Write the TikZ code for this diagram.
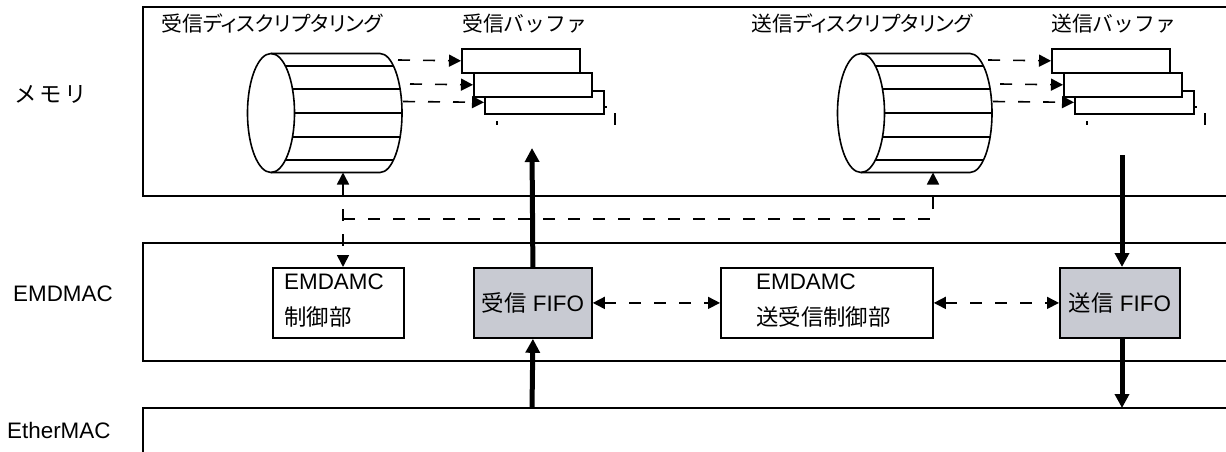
\documentclass[tikz,border=0pt]{standalone}
\usepackage{fontspec}
\setmainfont{Liberation Sans}
\newfontfamily\jp{Noto Sans CJK JP}[RawFeature=+palt]
\newfontfamily\jpw{Noto Sans CJK JP}
\usetikzlibrary{arrows.meta}
\definecolor{fifogray}{RGB}{200,202,210}
\tikzset{
  frame/.style={line width=2pt},
  cyl/.style={line width=1.6pt},
  bufbox/.style={draw, line width=1.6pt, fill=white, minimum width=118pt, minimum height=24pt, inner sep=0pt, anchor=north west},
  blk/.style={draw, line width=1.8pt, inner sep=0pt, anchor=north west, minimum height=70pt, font=\fontsize{22.4}{26}\selectfont},
  dsh/.style={line width=1.6pt, dash pattern=on 12pt off 13pt},
  thk/.style={line width=5pt},
  txt/.style={inner sep=0pt, anchor=west, font=\fontsize{22.4}{26}\selectfont},
  hdr/.style={inner sep=0pt, anchor=west, font=\fontsize{20.8}{26}\selectfont},
  >={Triangle[length=12pt,width=12pt]},
  thtip/.style={-{Triangle[length=14pt,width=14pt]}}
}
\newcommand\ringset[2]{%
\begin{scope}[xshift=#1pt]
  % descriptor ring (cylinder)
  \draw[cyl] (271,113) ellipse [x radius=23.5, y radius=59.5];
  \draw[cyl] (271,53.5) -- (380,53.5) arc[start angle=-90, end angle=90, x radius=22, y radius=59.5] -- (271,172.5);
  \draw[cyl] (285.4,66) -- (393.5,66);
  \draw[cyl] (292.5,89) -- (400.1,89);
  \draw[cyl] (294.5,113) -- (402,113);
  \draw[cyl] (292.5,137) -- (400.1,137);
  \draw[cyl] (285.4,160) -- (393.5,160);
  \coordinate (#2bot) at (343,172.5);
  % buffers
  \node[bufbox, minimum width=119pt, minimum height=23pt] (#2b3) at (484,90) {};
  \node[bufbox] (#2b2) at (473,72) {};
  \node[bufbox] (#2b1) at (461,48) {};
  \draw[cyl] (603,107) -- (607,107);
  \draw[cyl] (497,121) -- (497,125);
  \draw[cyl] (615,113) -- (615,125);
  % pointers
  \coordinate (#2p1) at (398,60);
  \coordinate (#2p2) at (410,84);
  \coordinate (#2p3) at (403,101.5);
  \draw[dsh,->] (#2p1) -- (#2b1.west);
  \draw[dsh,->] (#2p2) -- (#2b2.west);
  \draw[dsh,->] (#2p3) -- (#2b3.west);
\end{scope}}
\begin{document}
\begin{tikzpicture}[x=1pt, y=-1pt]
\useasboundingbox (0,0) rectangle (1226,452);
\clip (0,0) rectangle (1226,452);
% layer frames
\draw[frame] (1240,7) -- (143,7) -- (143,196) -- (1240,196);
\draw[frame] (1240,243) -- (143,243) -- (143,361) -- (1240,361);
\draw[frame] (1240,408) -- (143,408) -- (143,470);
% layer labels
\node[txt] (lmem) at (14,94) {\jpw メ\hspace{3pt}モ\hspace{3pt}リ};
\node[txt] (lemd) at (13,293.5) {EMDMAC};
\node[txt] (leth) at (7,430) {EtherMAC};
% headers
\node[hdr] (hrd) at (161,23.5) {\jp 受信ディスクリプタリング};
\node[hdr] (hrb) at (462,23.5) {\jpw 受信バッファ};
\node[hdr] (htd) at (751,23.5) {\jp 送信ディスクリプタリング};
\node[hdr] (htb) at (1051,23.5) {\jpw 送信バッファ};
% rings and buffers
\ringset{0}{R}
\ringset{590}{T}
% EMDMAC blocks
\node[blk, minimum width=131pt] (ctl) at (272,267) {};
\node[txt] (ctl1) at (284,282) {EMDAMC};
\node[txt] (ctl2) at (284,317) {\jp 制御部};
\node[blk, fill=fifogray, minimum width=118pt] (rxf) at (473,267) {{\jp 受信} FIFO};
\node[blk, minimum width=212pt] (trx) at (720,267) {};
\node[txt] (trx1) at (756,282) {EMDAMC};
\node[txt] (trx2) at (756,317) {\jp 送受信制御部};
\node[blk, fill=fifogray, minimum width=120pt] (txf) at (1059,267) {{\jp 送信} FIFO};
% dashed control connections
\coordinate (jn) at (343,219);
\draw[dsh,<->] (Rbot) -- (Rbot |- ctl.north);
\draw[dsh,->] (jn) -- (jn -| Tbot) -- (Tbot);
\draw[dsh,<->] (rxf.east) -- (trx.west);
\draw[dsh,<->] (trx.east) -- (txf.west);
% data paths
\coordinate (rxtop) at (532,148);
\coordinate (txtop) at (1122,155);
\coordinate (ethR) at (532,408);
\coordinate (ethT) at (1122,408);
\draw[thk,thtip] (rxf.north) -- (rxtop);
\draw[thk,thtip] (ethR) -- (rxf.south);
\draw[thk,thtip] (txtop) -- (txtop |- txf.north);
\draw[thk,thtip] (txtop |- txf.south) -- (ethT);
\end{tikzpicture}
\end{document}
